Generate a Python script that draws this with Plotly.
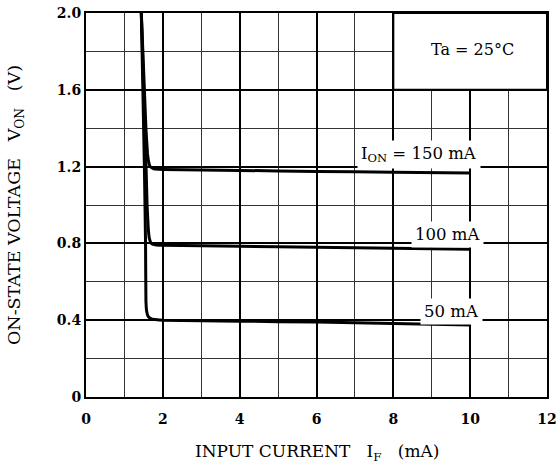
import plotly.graph_objects as go

# Data
if_150 = [1.44, 1.50, 1.56, 1.60, 1.63, 1.67, 1.75, 1.90, 2.0, 4.0, 6.0, 8.0, 10.0]
von_150 = [2.00, 1.70, 1.40, 1.27, 1.225, 1.200, 1.190, 1.186, 1.185, 1.180, 1.175, 1.171, 1.167]

if_100 = [1.44, 1.50, 1.55, 1.59, 1.62, 1.65, 1.70, 1.80, 2.0, 4.0, 6.0, 8.0, 10.0]
von_100 = [2.00, 1.60, 1.30, 1.00, 0.88, 0.825, 0.800, 0.793, 0.790, 0.785, 0.780, 0.775, 0.770]

if_50 = [1.44, 1.48, 1.52, 1.55, 1.56, 1.58, 1.62, 1.70, 1.85, 2.0, 4.0, 6.0, 8.0, 10.0]
von_50 = [2.00, 1.60, 1.20, 0.80, 0.50, 0.445, 0.418, 0.407, 0.402, 0.400, 0.395, 0.390, 0.383, 0.375]

series = [
    ("150 mA", if_150, von_150),
    ("100 mA", if_100, von_100),
    ("50 mA", if_50, von_50),
]

x_ticks = [0, 2, 4, 6, 8, 10, 12]
y_ticks = [0, 0.4, 0.8, 1.2, 1.6, 2.0]
y_tick_text = ["0", "0.4", "0.8", "1.2", "1.6", "2.0"]

label_text = ["I<sub>ON</sub> = 150 mA", "100 mA", "50 mA"]
label_x = [8.67, 9.41, 9.52]
label_y = [1.262, 0.845, 0.446]

SERIF = "DejaVu Serif"

fig = go.Figure()
for name, xs, ys in series:
    fig.add_trace(go.Scatter(x=xs, y=ys, mode="lines", name=name,
                             line=dict(color="black", width=3, shape="spline", smoothing=0.3),
                             showlegend=False, hoverinfo="skip"))

# Blank box with Ta label in the upper right
fig.add_shape(type="rect", x0=8, x1=12, y0=1.6, y1=2.0, xref="x", yref="y",
              fillcolor="white", line=dict(color="black", width=2), layer="above")

annotations = [
    dict(x=10.05, y=1.81, xref="x", yref="y", text="Ta = 25°C", showarrow=False,
         font=dict(family=SERIF, size=16, color="black")),
]
for t, x, y in zip(label_text, label_x, label_y):
    annotations.append(dict(x=x, y=y, xref="x", yref="y", text=t, showarrow=False,
                            bgcolor="white", borderpad=3,
                            font=dict(family=SERIF, size=16.5, color="black")))
# Axis titles
annotations.append(dict(x=0.5, y=0, xref="paper", yref="paper", yshift=-55,
                        text="INPUT CURRENT   I<sub>F</sub>   (mA)", showarrow=False,
                        xanchor="center", yanchor="middle",
                        font=dict(family=SERIF, size=17, color="black")))
annotations.append(dict(x=0, y=0.5, xref="paper", yref="paper", xshift=-71,
                        text="ON-STATE VOLTAGE   V<sub>ON</sub>   (V)", showarrow=False,
                        textangle=-90, xanchor="center", yanchor="middle",
                        font=dict(family=SERIF, size=17.5, color="black")))
# Title mostly cut off at the very top, as in the reference
annotations.append(dict(x=0.258, y=1.0, xref="paper", yref="paper", yshift=10,
                        text="V<sub>ON</sub> – I<sub>F</sub>  (TYPICAL VALUES)",
                        showarrow=False, yanchor="bottom", xanchor="left",
                        font=dict(family=SERIF, size=17, color="black")))

fig.update_layout(
    width=557, height=463,
    margin=dict(l=86, r=10, t=13, b=66),
    paper_bgcolor="white", plot_bgcolor="white",
    font=dict(family=SERIF, color="black"),
    annotations=annotations,
    xaxis=dict(
        range=[0, 12], tickvals=x_ticks, ticks="", automargin=False,
        tickfont=dict(family=SERIF, size=14, weight="bold"),
        showgrid=True, gridcolor="black", gridwidth=1.5,
        minor=dict(dtick=1, showgrid=True, gridcolor="#333333", gridwidth=1),
        showline=True, linecolor="black", linewidth=2, mirror=True,
        zeroline=False, ticklabelstandoff=8,
    ),
    yaxis=dict(
        range=[0, 2.0], tickvals=y_ticks, ticktext=y_tick_text, ticks="", automargin=False,
        tickfont=dict(family=SERIF, size=14, weight="bold"),
        showgrid=True, gridcolor="black", gridwidth=1.5,
        minor=dict(dtick=0.2, showgrid=True, gridcolor="#333333", gridwidth=1),
        showline=True, linecolor="black", linewidth=2, mirror=True,
        zeroline=False,
    ),
)

fig.write_html("out.html", config={"displayModeBar": False},
               post_script="document.body.style.margin='0';document.body.style.overflow='hidden';")
